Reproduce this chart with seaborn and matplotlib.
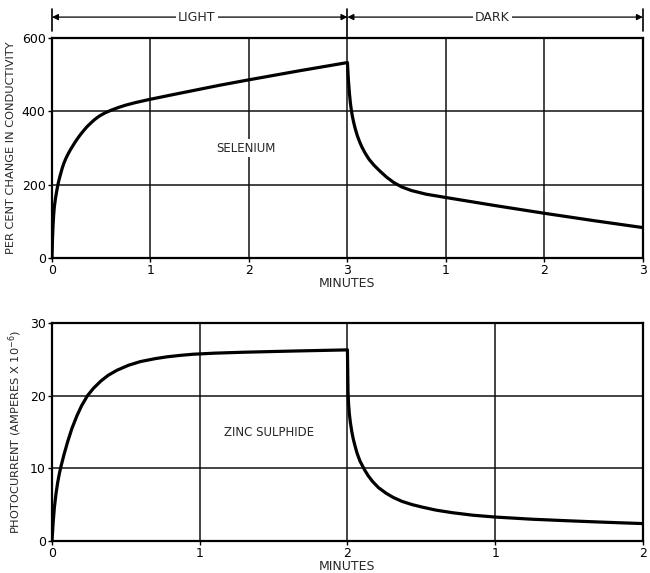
import numpy as np
import pandas as pd
import matplotlib
matplotlib.use("Agg")
import matplotlib.pyplot as plt
import seaborn as sns

# Selenium: per cent change in conductivity during 3 min light, then 3 min dark
selenium_min = [0, 0.005, 0.01, 0.017, 0.024, 0.035, 0.045, 0.055, 0.064, 0.075,
                0.09, 0.105, 0.12, 0.14, 0.158, 0.18, 0.2, 0.23, 0.26, 0.29, 0.32,
                0.355, 0.39, 0.43, 0.48, 0.54, 0.6, 0.68, 0.75, 0.85, 1.0, 1.2,
                1.44, 1.7, 2.0, 2.5, 3.0,
                3.01, 3.02, 3.03, 3.04, 3.05, 3.065, 3.08, 3.1, 3.125, 3.15, 3.18,
                3.22, 3.27, 3.33, 3.4, 3.47, 3.55, 3.65, 3.8, 4.0, 4.5, 5.0, 5.5,
                6.0]
selenium_pct = [0, 52, 85, 118, 140, 162, 178, 193, 205, 217,
                232, 246, 258, 271, 281, 292, 301, 314, 326, 337, 347,
                358, 367, 377, 387, 396, 403, 411, 417, 424, 433, 444,
                457, 471, 486, 510, 533,
                485, 450, 423, 403, 387, 368, 352, 334, 316, 301, 286,
                269, 253, 237, 220, 206, 194, 184, 174, 165, 143, 122, 102,
                83]

# Zinc sulphide: photocurrent (amperes x 1e-6) during 2 min light, then 2 min dark
zns_min = [0, 0.008, 0.016, 0.027, 0.038, 0.05, 0.06, 0.08, 0.105, 0.135, 0.17,
           0.2, 0.24, 0.28, 0.33, 0.38, 0.44, 0.52, 0.6, 0.7, 0.78, 0.87, 0.955,
           1.1, 1.3, 1.65, 2.0,
           2.002, 2.004, 2.008, 2.013, 2.02, 2.03, 2.04, 2.05, 2.065, 2.085,
           2.116, 2.14, 2.17, 2.21, 2.26, 2.31, 2.37, 2.44, 2.51, 2.6, 2.71,
           2.85, 3.0, 3.25, 3.5, 3.75, 4.0]
zns_amp = [0, 2.6, 4.6, 6.5, 8.0, 9.3, 10.2, 11.8, 13.6, 15.5, 17.3,
           18.6, 20.0, 21.0, 22.0, 22.8, 23.5, 24.2, 24.7, 25.1, 25.35, 25.55,
           25.7, 25.85, 25.98, 26.15, 26.3,
           23.5, 20.5, 18.8, 17.5, 16.3, 15.0, 14.0, 13.2, 12.1, 11.0,
           9.8, 9.0, 8.2, 7.35, 6.6, 6.0, 5.45, 5.0, 4.65, 4.25, 3.9,
           3.55, 3.3, 3.0, 2.78, 2.58, 2.4]

top_ticks = [0, 1, 2, 3, 4, 5, 6]
top_tick_labels = ["0", "1", "2", "3", "1", "2", "3"]
top_yticks = [0, 200, 400, 600]
bot_ticks = [0, 1, 2, 3, 4]
bot_tick_labels = ["0", "1", "2", "1", "2"]
bot_yticks = [0, 10, 20, 30]

sns.set_style("ticks")
plt.rcParams["font.family"] = ["DejaVu Sans"]

fig = plt.figure(figsize=(6.5, 5.73), dpi=100)
ax1 = fig.add_axes([0.080, 0.5497, 0.909, 0.3840])
ax2 = fig.add_axes([0.080, 0.0558, 0.909, 0.3805])

df_se = pd.DataFrame({"t": selenium_min, "v": selenium_pct})
df_zn = pd.DataFrame({"t": zns_min, "v": zns_amp})

line_kw = dict(sort=False, estimator=None, color="black", lw=2.3, zorder=3,
               solid_joinstyle="round", solid_capstyle="round")
sns.lineplot(data=df_se, x="t", y="v", ax=ax1, **line_kw)
sns.lineplot(data=df_zn, x="t", y="v", ax=ax2, **line_kw)

def style(ax, xt, xl, yt, xmax, ymax, ylabel):
    ax.set_xlim(0, xmax)
    ax.set_ylim(0, ymax)
    ax.set_xticks(xt)
    ax.set_xticklabels(xl)
    ax.set_yticks(yt)
    ax.grid(True, color="#111111", lw=1.1)
    ax.set_axisbelow(True)
    for s in ax.spines.values():
        s.set_visible(True)
        s.set_linewidth(1.6)
        s.set_color("black")
    ax.tick_params(axis="both", direction="out", length=3, width=1,
                   labelsize=9, colors="black", pad=1.5)
    ax.set_xlabel("MINUTES", fontsize=9, labelpad=0)
    ax.set_ylabel(ylabel, fontsize=8.2, labelpad=4)

style(ax1, top_ticks, top_tick_labels, top_yticks, 6, 600,
      "PER CENT CHANGE IN CONDUCTIVITY")
style(ax2, bot_ticks, bot_tick_labels, bot_yticks, 4, 30,
      r"PHOTOCURRENT (AMPERES X 10$^{-6}$)")

box = dict(facecolor="white", edgecolor="none", pad=2)
ax1.text(1.97, 300, "SELENIUM", ha="center", va="center", fontsize=8.5,
         bbox=box, zorder=4)
ax2.text(1.47, 14.9, "ZINC SULPHIDE", ha="center", va="center", fontsize=8.5,
         bbox=box, zorder=4)

# LIGHT / DARK interval markers above the selenium panel
trans = ax1.get_xaxis_transform()
y_arrow = 1.095
for x0, x1, label in [(0, 3, "LIGHT"), (3, 6, "DARK")]:
    ax1.annotate("", xy=(x0, y_arrow), xytext=(x1, y_arrow), xycoords=trans,
                 textcoords=trans,
                 arrowprops=dict(arrowstyle="<|-|>", color="black", lw=0.9,
                                 mutation_scale=9, shrinkA=0, shrinkB=0))
    ax1.text((x0 + x1) / 2 - 0.03, y_arrow, label, transform=trans, ha="center",
             va="center", fontsize=9, bbox=dict(facecolor="white",
                                                  edgecolor="none", pad=1.5))
for x, y_lo in [(0, 1.03), (3, 1.0), (6, 1.03)]:
    ax1.plot([x, x], [y_lo, 1.13], transform=trans, color="black", lw=1.2,
             clip_on=False)

fig.savefig("out.png", dpi=100)
